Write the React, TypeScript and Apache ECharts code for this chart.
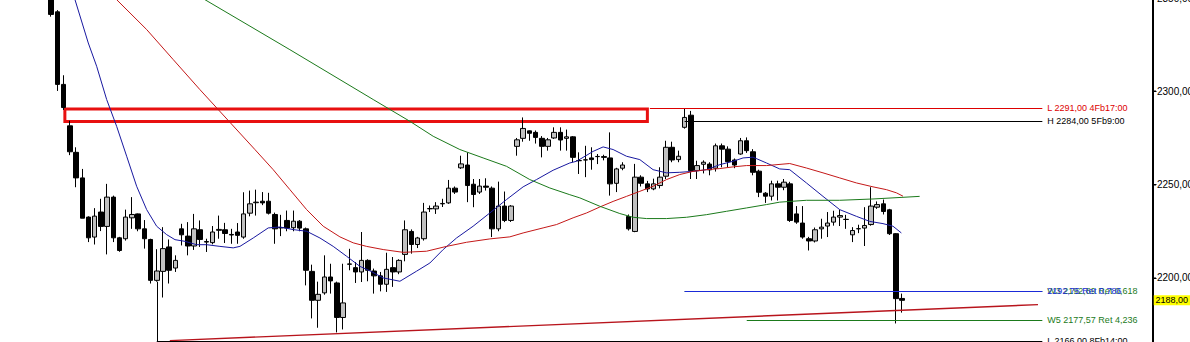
import React, { useEffect, useRef } from "react";
import * as echarts from "echarts";

// ---- Candles (index 0..137) ----
const opens = [
  2358, 2342.6, 2303.7, 2281.5, 2267.3, 2253.6, 2232.6, 2221.9, 2235.3, 2227.6,
  2243.3, 2221.5, 2221.0, 2232.2, 2234.3, 2226.3, 2220.6, 2198.7, 2203.5, 2216.6,
  2205.3, 2226.3, 2222.4, 2217.1, 2225.8, 2219.2, 2218.9, 2225.5, 2225.8, 2223.3,
  2224.6, 2221.9, 2234.7, 2240.3, 2241.1, 2241.1, 2234, 2226.8, 2230.8, 2226.9,
  2230.4, 2226.3, 2203.5, 2188.0, 2192, 2200.5, 2197.3, 2178.8, 2207.3, 2205.5,
  2203.2, 2209.4, 2203.7, 2201.1, 2196.6, 2205.5, 2203.2, 2212.6, 2224.9, 2217.9,
  2221, 2237, 2237, 2239.7, 2240.2, 2248.1, 2259, 2260.5, 2250.2, 2246,
  2249.2, 2248.1, 2226.3, 2238.5, 2230.8, 2270.5, 2274.8, 2278.8, 2278, 2274.8,
  2270.5, 2275, 2278, 2274.8, 2275.6, 2262.8, 2263.2, 2264.3, 2265, 2265,
  2264.3, 2250.7, 2258.8, 2232.9, 2224.9, 2254, 2250.4, 2247.7, 2249.5, 2254.5,
  2270, 2263.4, 2280.7, 2287.2, 2257.5, 2260.9, 2261, 2258.8, 2270.8, 2269,
  2263.2, 2266.4, 2273.5, 2267.6, 2257.2, 2245.4, 2243.8, 2250.4, 2248.6, 2250.4,
  2234.3, 2229.4, 2221, 2219.8, 2226.3, 2227.8, 2229.9, 2232.6, 2231.3, 2223.1,
  2226.3, 2226.7, 2228.6, 2237.9, 2239.7, 2236.5, 2223.7, 2189,
];
const closes = [
  2341.2, 2303.7, 2291.3, 2267.6, 2253.6, 2232.0, 2221.5, 2233.1, 2227.6, 2243.3,
  2221.5, 2214.7, 2232.6, 2234.0, 2226.3, 2221.0, 2198.7, 2203.7, 2215.7, 2204.1,
  2209.4, 2223.1, 2217.1, 2226.3, 2220.6, 2219.5, 2224.6, 2226, 2223.8, 2223.0,
  2222.8, 2234.3, 2239.7, 2240.6, 2240.2, 2234.7, 2226.3, 2227, 2226.7, 2230.4,
  2226.7, 2204.1, 2188.0, 2191.2, 2200.5, 2198.4, 2178.8, 2186.6, 2207.5, 2203.2,
  2209.4, 2204.1, 2201.1, 2196.6, 2204.6, 2203.2, 2209.4, 2225.8, 2217.9, 2221.4,
  2235.3, 2237.2, 2238.5, 2239.9, 2248.1, 2246, 2261.1, 2249.5, 2244.7, 2249.2,
  2248.6, 2226.3, 2238.5, 2230.8, 2238.5, 2274.0, 2280.1, 2277.5, 2275.3, 2270.5,
  2274, 2278, 2273.9, 2275.6, 2264.6, 2262.9, 2263.3, 2263.4, 2265.1, 2264.6,
  2250.4, 2258.4, 2260.5, 2226.3, 2254, 2250.7, 2247.7, 2250.4, 2254, 2270,
  2263.2, 2265.2, 2286, 2257.5, 2260.2, 2262, 2257.9, 2270.8, 2269, 2262.3,
  2260.5, 2273.5, 2268.2, 2256.6, 2245.9, 2243.8, 2250.4, 2248.6, 2251.3, 2230.8,
  2229.9, 2221.9, 2219.8, 2225.8, 2227.2, 2229.4, 2232.6, 2233.4, 2231.4, 2225.4,
  2226.4, 2228.1, 2238.5, 2239.3, 2235.6, 2223.7, 2188.9, 2188,
];
const lows = [
  2340, 2300.2, 2290, 2265.8, 2248.6, 2232, 2219.2, 2217.9, 2225.1, 2212.6,
  2219.2, 2214, 2220, 2226.3, 2225, 2215.7, 2197, 2198, 2189.5, 2197,
  2203.2, 2217.4, 2212.1, 2215, 2216.6, 2213.9, 2218, 2221, 2218.7, 2218.3,
  2218.3, 2221, 2233, 2233.4, 2239, 2234, 2218.3, 2222.4, 2225, 2225,
  2225, 2196, 2178.3, 2173.3, 2191, 2191.6, 2170.8, 2172.4, 2204.1, 2197.3,
  2197.8, 2198.2, 2191.6, 2192.8, 2192.5, 2195.2, 2202, 2208.9, 2213, 2216,
  2220, 2235.3, 2234.3, 2238, 2239.7, 2245, 2258.4, 2240.6, 2237.9, 2245,
  2246.8, 2221.9, 2225, 2229.9, 2230, 2265.5, 2273, 2273.5, 2272, 2264.6,
  2268.2, 2274.5, 2268.2, 2268.2, 2262, 2255.7, 2254, 2258, 2261, 2263,
  2244.1, 2246, 2257.7, 2225.4, 2224.5, 2249, 2246, 2247, 2248, 2253,
  2262, 2262, 2280, 2253, 2253, 2256, 2255, 2257, 2259.3, 2259.3,
  2258.8, 2266, 2267, 2255, 2243.3, 2240.2, 2241.5, 2241.5, 2247, 2230,
  2229, 2221, 2214.7, 2219, 2221, 2221.9, 2228, 2227.8, 2226.3, 2219.2,
  2224, 2217.1, 2228, 2237, 2234, 2223, 2175.6, 2181.4,
];
const highs = [
  2362, 2343.5, 2308.6, 2284.2, 2270, 2258.4, 2233, 2237.4, 2242.4, 2250.4,
  2244.1, 2222, 2236.6, 2243.3, 2234.5, 2231, 2221, 2215.4, 2227.2, 2220.6,
  2212.1, 2229, 2229.9, 2234.3, 2230.8, 2221, 2227.8, 2233.4, 2229.5, 2226.3,
  2229.4, 2245.9, 2246.8, 2247.3, 2246, 2245.6, 2235, 2233.8, 2236.1, 2236.1,
  2231, 2227, 2207.1, 2198, 2212.1, 2207.6, 2198, 2207.6, 2215.6, 2208.5,
  2224.6, 2210, 2205, 2203.2, 2213.5, 2211.2, 2210, 2230.8, 2226, 2222,
  2240.2, 2238.8, 2240.6, 2242.4, 2252.5, 2249, 2265.5, 2267.3, 2253, 2253,
  2253.4, 2249, 2251.6, 2246.3, 2239, 2275, 2286, 2279, 2279, 2276,
  2275, 2280.7, 2280.7, 2279.5, 2276, 2267.3, 2270.8, 2270, 2266.4, 2266,
  2278, 2259, 2262, 2234, 2261.1, 2255, 2252, 2253.2, 2259.3, 2273.5,
  2273, 2268.2, 2290.8, 2289.5, 2262.8, 2263, 2262, 2272, 2272, 2270.5,
  2264, 2275, 2275.3, 2269, 2258, 2246, 2252.1, 2252.1, 2253, 2251.5,
  2238.5, 2238.5, 2222, 2227, 2231.7, 2235.3, 2236, 2236.6, 2233.8, 2227.2,
  2228.5, 2237.9, 2248.6, 2241, 2242, 2237, 2224, 2191.6,
];

// ---- Moving averages: [bar index, price] ----
const maFast = [
  [3.83, 2349.1], [5.97, 2325.9], [7.32, 2313.4], [8.93, 2295.6], [10.54, 2281.2],
  [12.15, 2265.2], [13.76, 2249.1], [15.37, 2236.6], [16.98, 2227.7], [18.59, 2223.2],
  [19.93, 2220.5], [21.54, 2219.6], [23.42, 2217.8], [25.03, 2217.8], [27.17, 2216.9],
  [29.31, 2216.1], [30.39, 2216.9], [32.53, 2221.4], [34.95, 2226.8], [36.83, 2227.3],
  [38.97, 2225.9], [41.13, 2225.0], [43.27, 2221.4], [45.41, 2216.9], [47.57, 2211.6],
  [49.71, 2206.2], [51.5, 2203.5], [53.46, 2200.0], [56.15, 2198.2], [58.83, 2203.6],
  [60.98, 2208.0], [63.12, 2215.2], [65.27, 2221.4], [67.94, 2227.7], [70.63, 2234.8],
  [73.32, 2242.0], [75.99, 2248.8], [78.15, 2252.7], [80.82, 2257.7], [83.51, 2261.6],
  [84.59, 2262.5], [87.26, 2267.8], [88.87, 2270.2], [90.48, 2268.8], [92.64, 2265.2],
  [94.78, 2263.4], [96.92, 2258.0], [99.08, 2256.3], [101.22, 2256.6], [103.36, 2257.1],
  [105.52, 2258.0], [107.66, 2260.7], [109.8, 2262.5], [111.41, 2264.3], [113.02, 2264.7],
  [115.17, 2261.6], [117.31, 2258.4], [118.92, 2258.0], [121.61, 2250.9], [124.28, 2243.7],
  [126.97, 2236.6], [129.66, 2233.0], [131.8, 2230.3], [133.94, 2229.1], [135.55, 2227.7],
  [136.9, 2224.1],
];
const maMid = [
  [10.54, 2349.1], [15.37, 2333.1], [19.65, 2317.0], [23.95, 2300.9], [32.8, 2268.8],
  [35.75, 2258.0], [38.44, 2247.3], [41.13, 2236.6], [43.8, 2227.7], [46.49, 2222.0],
  [48.63, 2218.8], [50.78, 2216.9], [53.46, 2215.2], [56.68, 2213.7], [60.44, 2214.3],
  [63.66, 2216.9], [66.88, 2219.1], [70.63, 2220.9], [73.85, 2222.0], [75.99, 2224.1],
  [79.21, 2226.8], [81.37, 2228.6], [84.04, 2232.2], [86.2, 2234.8], [88.34, 2238.0],
  [90.48, 2241.0], [92.64, 2243.7], [94.78, 2246.4], [96.92, 2249.1], [99.08, 2252.7],
  [101.22, 2255.4], [103.36, 2257.1], [105.52, 2258.0], [107.66, 2258.6], [109.8, 2259.5],
  [111.96, 2260.2], [115.17, 2260.2], [118.92, 2261.3], [121.61, 2258.9], [124.28, 2256.3],
  [126.97, 2253.6], [129.66, 2250.9], [132.33, 2248.8], [134.49, 2247.3], [136.1, 2245.6],
  [137.16, 2243.8],
];
const maSlow = [
  [24.76, 2349.1], [38.44, 2322.3], [51.85, 2295.6], [57.77, 2283.9], [61.51, 2275.9],
  [65.8, 2268.8], [69.55, 2264.3], [73.32, 2259.8], [77.07, 2252.7], [80.29, 2248.2],
  [83.51, 2244.6], [85.12, 2242.9], [88.34, 2238.4], [91.56, 2234.5], [93.7, 2232.5],
  [95.86, 2231.8], [99.08, 2231.8], [102.3, 2232.5], [105.52, 2233.9], [108.73, 2235.7],
  [111.96, 2237.5], [115.17, 2239.3], [117.31, 2240.6], [121.61, 2241.6], [126.97, 2241.6],
  [132.33, 2242.3], [135.55, 2242.9], [139.84, 2243.7],
];

// ---- Price axis ----
const priceTicks = [2200, 2250, 2300, 2350];
const priceMin = 2165.5;
const priceMax = 2350;
const lastPrice = 2188;

// ---- Level lines (bar index start/end, price) and their texts ----
const levelEnd = 159.6;
const levelPrices = [2291, 2284, 2192.75, 2177.57, 2166];
const levelStarts = [96.4, 102, 102, 112, 17];
const levelTexts = [
  "L 2291,00 4Fb17:00",
  "H 2284,00 5Fb9:00",
  "2192,75 Ret 0,786",
  "W5 2177,57 Ret 4,236",
  "L 2166,00 8Fb14:00",
];
const overlapText = "W3 2192,89 Ret 0,618";
const zoneBox = { x1: 2.2, top: 2290.5, x2: 96.0, bottom: 2283.8 };
const trendFrom = [19.1, 2166.4];
const trendTo = [158.9, 2185.7];
const pivotTop = 2198;

const SLOTS = 178;
const FONT = "'Liberation Sans', Arial, sans-serif";
const fmt = (v: number) => v.toFixed(2).replace(".", ",");

export default function App() {
  const ref = useRef<HTMLDivElement>(null);

  useEffect(() => {
    if (!ref.current) return;
    const chart = echarts.init(ref.current, null, { renderer: "svg" });

    const candleData = opens.map((o, i) => [o, closes[i], lows[i], highs[i]]);
    const cats = Array.from({ length: SLOTS }, (_, i) => String(i));

    const levelColors = ["#dd0000", "#000000", "#1a2ad8", "#1b7a1b", "#000000"];
    const seg = (
      x1: number, y1: number, x2: number, y2: number,
      color: string, width: number, text?: string, textColor?: string
    ) => {
      const cfg: any = {
        lineStyle: { color, width, type: "solid" },
        label: text
          ? {
              show: true, position: "end", formatter: text, color: textColor || color,
              fontSize: 9, fontFamily: FONT, distance: 5,
            }
          : { show: false },
      };
      return [{ coord: [x1, y1], ...cfg }, { coord: [x2, y2], ...cfg }];
    };

    const markLines: any[] = [];
    markLines.push(seg(trendFrom[0], trendFrom[1], trendTo[0], trendTo[1], "#b8141c", 1.4));
    markLines.push(seg(levelStarts[4], pivotTop, levelStarts[4], levelPrices[4], "#000000", 1));
    markLines.push(seg(levelStarts[2], levelPrices[2], levelEnd, levelPrices[2], "#1b7a1b", 1, overlapText));
    levelPrices.forEach((p, i) => {
      markLines.push(seg(levelStarts[i], p, levelEnd, p, levelColors[i], 1, levelTexts[i]));
    });

    chart.setOption({
      animation: false,
      grid: {
        left: 48.1, top: -2.0, width: 1105.4, height: 344.3,
        containLabel: false, outerBoundsMode: "none",
      },
      xAxis: [
        { type: "category", data: cats, show: false, boundaryGap: true },
        { type: "value", min: -0.5, max: SLOTS - 0.5, show: false },
      ],
      yAxis: {
        type: "value",
        position: "right",
        min: priceMin,
        max: priceMax,
        splitLine: { show: false },
        axisLine: { show: true, onZero: false, lineStyle: { color: "#000", width: 1 } },
        axisTick: { show: true, inside: false, length: 3, customValues: priceTicks, lineStyle: { color: "#000", width: 1 } },
        axisLabel: {
          customValues: priceTicks,
          formatter: (v: number) => fmt(v),
          color: "#000",
          fontSize: 10,
          fontFamily: FONT,
          margin: 3.5,
          hideOverlap: false,
        },
      },
      series: [
        {
          type: "candlestick",
          xAxisIndex: 0,
          data: candleData,
          barWidth: 5,
          z: 2,
          silent: true,
          itemStyle: {
            color: "#c0c0c0",
            color0: "#000000",
            borderColor: "#000000",
            borderColor0: "#000000",
            borderColorDoji: "#000000",
            borderWidth: 1,
          },
          markLine: {
            silent: true,
            symbol: ["none", "none"],
            data: [
              {
                yAxis: lastPrice,
                lineStyle: { color: "rgba(0,0,0,0)", width: 1, type: "solid" },
                label: {
                  show: true,
                  position: "end",
                  formatter: fmt(lastPrice),
                  backgroundColor: "#ffff00",
                  color: "#000",
                  fontSize: 9,
                  fontFamily: FONT,
                  padding: [1, 2, 0, 2],
                  lineHeight: 9,
                  distance: 0,
                },
              },
            ],
          },
        },
        {
          type: "line",
          xAxisIndex: 1,
          data: maFast,
          showSymbol: false,
          silent: true,
          z: 3,
          lineStyle: { color: "#1818a0", width: 1 },
        },
        {
          type: "line",
          xAxisIndex: 1,
          data: maMid,
          showSymbol: false,
          silent: true,
          z: 3,
          lineStyle: { color: "#c41818", width: 1 },
        },
        {
          type: "line",
          xAxisIndex: 1,
          data: maSlow,
          showSymbol: false,
          silent: true,
          z: 3,
          lineStyle: { color: "#1b7a1b", width: 1 },
          markLine: {
            silent: true,
            clip: false,
            symbol: ["none", "none"],
            data: markLines,
          },
          markArea: {
            silent: true,
            itemStyle: { color: "rgba(0,0,0,0)", borderColor: "#e81010", borderWidth: 3 },
            label: { show: false },
            data: [[{ coord: [zoneBox.x1, zoneBox.top] }, { coord: [zoneBox.x2, zoneBox.bottom] }]],
          },
        },
      ],
    });

    // Price-scale border and tick marks, placed through the chart's own scales
    const edgeRaw = chart.convertToPixel({ xAxisIndex: 1 }, SLOTS - 0.5) as any;
    const edge = Array.isArray(edgeRaw) ? edgeRaw[0] : edgeRaw;
    if (typeof edge === "number" && isFinite(edge)) {
      const ex = Math.floor(edge) - 1;
      const elements: any[] = [
        {
          type: "rect",
          z: 100,
          silent: true,
          shape: { x: ex, y: 0, width: 1.5, height: 342 },
          style: { fill: "#000000" },
        },
      ];
      priceTicks.forEach((t) => {
        const tyRaw = chart.convertToPixel({ yAxisIndex: 0 }, t) as any;
        const ty = Array.isArray(tyRaw) ? tyRaw[1] : tyRaw;
        if (typeof ty === "number" && isFinite(ty)) {
          elements.push({
            type: "rect",
            z: 100,
            silent: true,
            shape: { x: ex, y: Math.round(ty) - 0.5, width: 4, height: 1 },
            style: { fill: "#000000" },
          });
        }
      });
      chart.setOption({ graphic: { elements } });
    }

    return () => chart.dispose();
  }, []);

  return (
    <div
      ref={ref}
      style={{ position: "absolute", left: 0, top: 0, width: 1190, height: 342, background: "#fff" }}
    />
  );
}
